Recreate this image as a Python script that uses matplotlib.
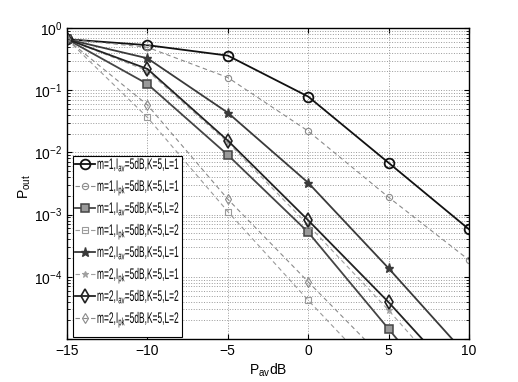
import matplotlib
matplotlib.use("Agg")
import matplotlib.pyplot as plt
from matplotlib.patheffects import AbstractPathEffect
from matplotlib.transforms import Affine2D
from matplotlib.lines import Line2D
from matplotlib.patches import Rectangle
from matplotlib.ticker import FixedLocator, FuncFormatter
import numpy as np

fam = "Liberation Sans"
plt.rcParams['font.family'] = [fam, 'DejaVu Sans']
plt.rcParams['mathtext.fontset'] = 'custom'
plt.rcParams['mathtext.rm'] = fam
plt.rcParams['mathtext.it'] = fam


class Squeeze(AbstractPathEffect):
    def __init__(self, sx):
        super().__init__()
        self.sx = sx

    def draw_path(self, renderer, gc, tpath, affine, rgbFace=None):
        renderer.draw_path(gc, tpath, Affine2D().scale(self.sx, 1) + affine, rgbFace)


x = [-15, -10, -5, 0, 5, 10]

s1 = [0.66, 0.53, 0.36, 0.079, 0.0068, 5.8e-4]
s2 = [0.66, 0.49, 0.16, 0.022, 0.0019, 1.86e-4]
s3 = [0.66, 0.126, 0.0091, 5.2e-4, 1.45e-5, 4e-7]
s4 = [0.66, 0.0366, 1.12e-3, 4.2e-5, 1.8e-6, 1e-7]
s5 = [0.66, 0.326, 0.0435, 3.25e-3, 1.37e-4, 5e-6]
s6 = [0.66, 0.205, 0.0145, 6.8e-4, 2.9e-5, 1e-6]
s7 = [0.66, 0.22, 0.0155, 8.1e-4, 3.9e-5, 1.5e-6]
s8 = [0.66, 0.058, 1.77e-3, 8.3e-5, 4e-6, 2e-7]

labels = [
    r"m=1,I$_{av}$=5dB,K=5,L=1",
    r"m=1,I$_{pk}$=5dB,K=5,L=1",
    r"m=1,I$_{av}$=5dB,K=5,L=2",
    r"m=1,I$_{pk}$=5dB,K=5,L=2",
    r"m=2,I$_{av}$=5dB,K=5,L=1",
    r"m=2,I$_{pk}$=5dB,K=5,L=1",
    r"m=2,I$_{av}$=5dB,K=5,L=2",
    r"m=2,I$_{pk}$=5dB,K=5,L=2",
]
xtick_vals = [-15, -10, -5, 0, 5, 10]
xtick_labels = ["\u221215", "\u221210", "\u22125", "0", "5", "10"]

fig = plt.figure(figsize=(5.18, 3.82), dpi=100)
ax = fig.add_axes([0.1293, 0.1126, 0.7761, 0.8141])

solid = dict(linestyle='-', linewidth=1.3)
dash = dict(linestyle='--', linewidth=0.8, dashes=(4, 3))

styles = [
    dict(color='#111111', marker='o', markersize=7, mfc='none', mew=1.3, **solid),
    dict(color='#8a8a8a', marker='o', markersize=4.5, mfc='none', mew=0.8, **dash),
    dict(color='#444444', marker='s', markersize=5.5, mfc='#9a9a9a', mew=1.1, **solid),
    dict(color='#9a9a9a', marker='s', markersize=4.5, mfc='none', mew=0.8, **dash),
    dict(color='#3a3a3a', marker='*', markersize=6.5, mfc='#3a3a3a', mew=1.0, **solid),
    dict(color='#a0a0a0', marker='*', markersize=5, mfc='#a0a0a0', mew=0.8, **dash),
    dict(color='#222222', marker='d', markersize=7, mfc='none', mew=1.2, **solid),
    dict(color='#8a8a8a', marker='d', markersize=5, mfc='none', mew=0.8, **dash),
]
series = [s1, s2, s3, s4, s5, s6, s7, s8]
for s, st in zip(series, styles):
    ax.plot(x, s, **st)

ax.set_yscale('log')
ax.set_xlim(-15, 10)
ax.set_ylim(1e-5, 1)
ax.set_xticks(xtick_vals)
ax.set_xticklabels(xtick_labels)
ax.yaxis.set_major_locator(FixedLocator([1e-5, 1e-4, 1e-3, 1e-2, 1e-1, 1]))
ax.yaxis.set_major_formatter(FuncFormatter(
    lambda v, p: "" if v < 2e-5 else r"$\mathdefault{10^{%d}}$" % int(round(np.log10(v)))))
ax.tick_params(axis='both', which='both', direction='in', labelsize=10, top=True, right=True)
ax.grid(True, which='major', axis='x', linestyle=':', color='#999999', linewidth=0.7)
ax.grid(True, which='both', axis='y', linestyle=':', color='#999999', linewidth=0.7)
for sp in ax.spines.values():
    sp.set_linewidth(1.0)

ax.set_xlabel(r"P$_{av}$dB", fontsize=10, labelpad=3)
ax.set_ylabel(r"P$_{out}$", fontsize=10)
ax.yaxis.set_label_coords(-0.085, 0.49)

# manual legend (condensed text like the original)
W, H = 402.0, 311.0
box = Rectangle((6 / W, 2 / H), 109 / W, 181 / H, transform=ax.transAxes,
                facecolor='white', edgecolor='black', linewidth=0.8, zorder=5)
ax.add_artist(box)
for i, (lab, st) in enumerate(zip(labels, styles)):
    yy = (339 - (164 + 22 * i)) / H
    lst = {k: v for k, v in st.items() if k not in ('marker', 'markersize', 'mfc', 'mew')}
    ln = Line2D([8 / W, 28 / W], [yy, yy], transform=ax.transAxes, zorder=6, **lst)
    ax.add_artist(ln)
    mk = Line2D([18 / W], [yy], transform=ax.transAxes, zorder=7, linestyle='none',
                marker=st['marker'], markersize=st['markersize'], mfc=st['mfc'],
                mew=st['mew'], color=st['color'])
    ax.add_artist(mk)
    ax.text(30 / W, yy - 5 / H, lab, transform=ax.transAxes, fontsize=11,
            ha='left', va='baseline', zorder=8, color='black',
            path_effects=[Squeeze(0.55)])

fig.savefig("out.png", dpi=100)
